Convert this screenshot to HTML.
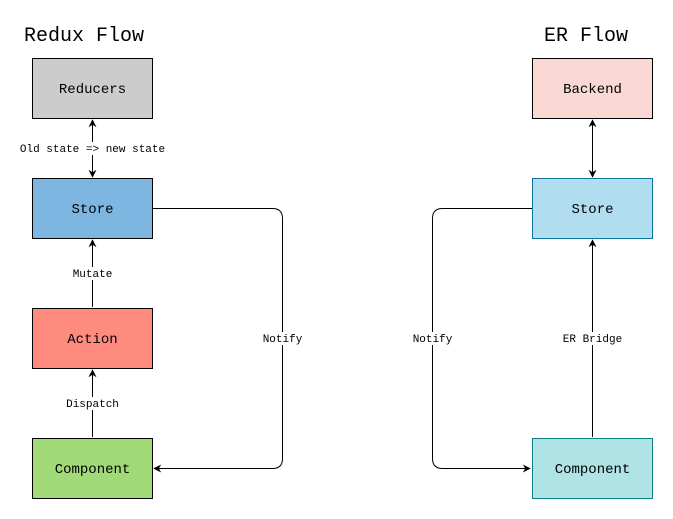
<!DOCTYPE html>
<html><head><meta charset="utf-8"><style>
html,body{margin:0;padding:0;background:#fff;}
svg{display:block;font-family:"Liberation Mono",monospace;}
</style></head><body>
<svg width="673" height="519" viewBox="0 0 673 519" xmlns="http://www.w3.org/2000/svg">
<defs>
<marker id="a" viewBox="0 0 10 10" refX="9" refY="5" markerWidth="8" markerHeight="8" orient="auto-start-reverse" markerUnits="userSpaceOnUse"><path d="M0,0 L10,5 L0,10 L3,5 z" fill="#000"/></marker>
</defs>
<text x="84" y="41" font-size="20" text-anchor="middle">Redux Flow</text>
<text x="586" y="41" font-size="20" text-anchor="middle">ER Flow</text>

<g stroke="#000" fill="none" stroke-width="1">
<line x1="92.5" y1="120" x2="92.5" y2="177" marker-start="url(#a)" marker-end="url(#a)"/>
<line x1="92.5" y1="307" x2="92.5" y2="240" marker-end="url(#a)"/>
<line x1="92.5" y1="437" x2="92.5" y2="370" marker-end="url(#a)"/>
<path d="M152,208.5 H272.5 Q282.5,208.5 282.5,218.5 V458.5 Q282.5,468.5 272.5,468.5 H154" marker-end="url(#a)"/>
<line x1="592.5" y1="120" x2="592.5" y2="177" marker-start="url(#a)" marker-end="url(#a)"/>
<line x1="592.5" y1="437" x2="592.5" y2="240" marker-end="url(#a)"/>
<path d="M532,208.5 H442.5 Q432.5,208.5 432.5,218.5 V458.5 Q432.5,468.5 442.5,468.5 H530" marker-end="url(#a)"/>
</g>

<g font-size="11" text-anchor="middle">
<rect x="18" y="142" width="150" height="13" fill="#fff"/><text x="92.5" y="152">Old state =&gt; new state</text>
<rect x="68" y="267" width="50" height="13" fill="#fff"/><text x="92.5" y="277">Mutate</text>
<rect x="62" y="397" width="62" height="13" fill="#fff"/><text x="92.5" y="407">Dispatch</text>
<rect x="258" y="332" width="50" height="13" fill="#fff"/><text x="282.5" y="342">Notify</text>
<rect x="408" y="332" width="50" height="13" fill="#fff"/><text x="432.5" y="342">Notify</text>
<rect x="560" y="332" width="66" height="13" fill="#fff"/><text x="592.5" y="342">ER Bridge</text>
</g>

<g font-size="14" text-anchor="middle">
<rect x="32.5" y="58.5" width="120" height="60" fill="#cccccc" stroke="#000"/><text x="92.5" y="93">Reducers</text>
<rect x="32.5" y="178.5" width="120" height="60" fill="#7eb6e2" stroke="#000"/><text x="92.5" y="213">Store</text>
<rect x="32.5" y="308.5" width="120" height="60" fill="#ff8b7f" stroke="#000"/><text x="92.5" y="343">Action</text>
<rect x="32.5" y="438.5" width="120" height="60" fill="#a3da78" stroke="#000"/><text x="92.5" y="473">Component</text>
<rect x="532.5" y="58.5" width="120" height="60" fill="#fad9d5" stroke="#000"/><text x="592.5" y="93">Backend</text>
<rect x="532.5" y="178.5" width="120" height="60" fill="#b1ddf0" stroke="#10739e"/><text x="592.5" y="213">Store</text>
<rect x="532.5" y="438.5" width="120" height="60" fill="#b0e3e6" stroke="#0e8088"/><text x="592.5" y="473">Component</text>
</g>
</svg>
</body></html>
